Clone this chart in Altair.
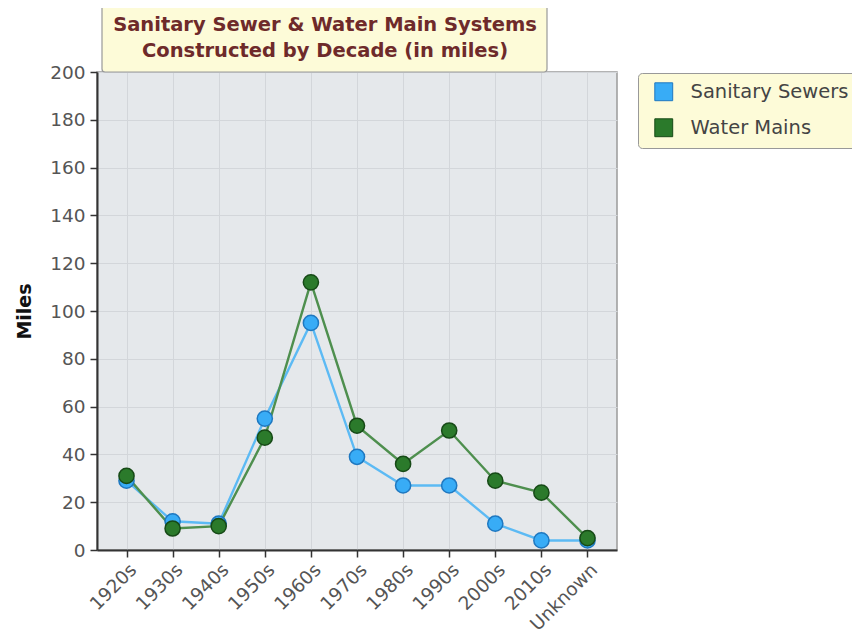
import altair as alt
import pandas as pd

decades = ["1920s", "1930s", "1940s", "1950s", "1960s", "1970s", "1980s", "1990s", "2000s", "2010s", "Unknown"]
sewers = [29, 12, 11, 55, 95, 39, 27, 27, 11, 4, 4]
water = [31, 9, 10, 47, 112, 52, 36, 50, 29, 24, 5]
series_names = ["Sanitary Sewers", "Water Mains"]
title_lines = ["Sanitary Sewer & Water Main Systems", "Constructed by Decade (in miles)"]

rows = []
for name, vals in zip(series_names, [sewers, water]):
    for d, v in zip(decades, vals):
        rows.append({"Decade": d, "Miles": v, "Series": name})
df = pd.DataFrame(rows)

FONT = "DejaVu Sans"

x_enc = alt.X("Decade:N", sort=decades, scale=alt.Scale(type="point", padding=0.64),
              axis=alt.Axis(title=None, labelAngle=-45, labelAlign="right", labelBaseline="top",
                            labelFontSize=18.5, labelColor="#555", labelFont=FONT,
                            tickSize=7, tickColor="#333", tickWidth=1.5, domainColor="#333", domainWidth=2,
                            grid=True, gridColor="#d3d6da", labelPadding=3))
y_enc = alt.Y("Miles:Q", scale=alt.Scale(domain=[0, 200], nice=False),
              axis=alt.Axis(title="Miles", values=list(range(0, 201, 20)), labelFontSize=18.5,
                            labelColor="#555", labelFont=FONT, titleFont=FONT,
                            titleFontSize=19, titleFontWeight="bold", titleColor="#111",
                            titlePadding=15, tickSize=7, tickColor="#333", tickWidth=1.5, domainColor="#333",
                            domainWidth=2, grid=True, gridColor="#d3d6da", labelPadding=5))

line_colors = ["#5cbaf4", "#4e8f4e"]
fill_colors = ["#38acf6", "#2b7a2b"]
stroke_colors = ["#1f78c0", "#174a17"]

base = alt.Chart(df)
lines = base.mark_line(strokeWidth=2.4).encode(
    x=x_enc, y=y_enc,
    color=alt.Color("Series:N", scale=alt.Scale(domain=series_names, range=line_colors), legend=None),
)
points = base.mark_point(filled=True, size=230, opacity=1, strokeWidth=1.5, shape="circle").encode(
    x=x_enc, y=y_enc,
    fill=alt.Fill("Series:N", scale=alt.Scale(domain=series_names, range=fill_colors),
                  legend=alt.Legend(title=None, orient="none", legendX=541, legendY=1,
                                    symbolType="square", symbolSize=320, symbolStrokeColor="#333",
                                    symbolStrokeWidth=1, symbolOffset=7, labelFontSize=19.5,
                                    labelColor="#444", labelFont=FONT, rowPadding=13, padding=9,
                                    fillColor="#fdfbd8", strokeColor="#999", cornerRadius=4,
                                    labelOffset=17, offset=0)),
    stroke=alt.Stroke("Series:N", scale=alt.Scale(domain=series_names, range=stroke_colors), legend=None),
)

title_df = pd.DataFrame({"line": title_lines})
title_box = alt.Chart(pd.DataFrame({"a": [0]})).mark_rect(
    fill="#fdfbd8", stroke="#999", strokeWidth=1.2, cornerRadius=3, clip=False
).encode(x=alt.value(5), x2=alt.value(450), y=alt.value(-67), y2=alt.value(0))
title_text1 = alt.Chart(title_df.iloc[[0]]).mark_text(
    font=FONT, fontSize=19.5, fontWeight="bold", color="#6e2a2a", clip=False
).encode(text="line:N", x=alt.value(228), y=alt.value(-47))
title_text2 = alt.Chart(title_df.iloc[[1]]).mark_text(
    font=FONT, fontSize=19.5, fontWeight="bold", color="#6e2a2a", clip=False
).encode(text="line:N", x=alt.value(228), y=alt.value(-21))

chart = alt.layer(title_box, lines, points, title_text1, title_text2).resolve_scale(
    color="independent", fill="independent", stroke="independent"
).properties(
    width=520, height=478,
    autosize=alt.AutoSizeParams(type="none"),
    padding={"left": 89, "top": 64, "right": 235, "bottom": 84},
).configure_view(fill="#e5e8eb", stroke="#9a9a9a", strokeWidth=1.5)

chart.save("out.html", embed_options={"renderer": "svg", "actions": False})
